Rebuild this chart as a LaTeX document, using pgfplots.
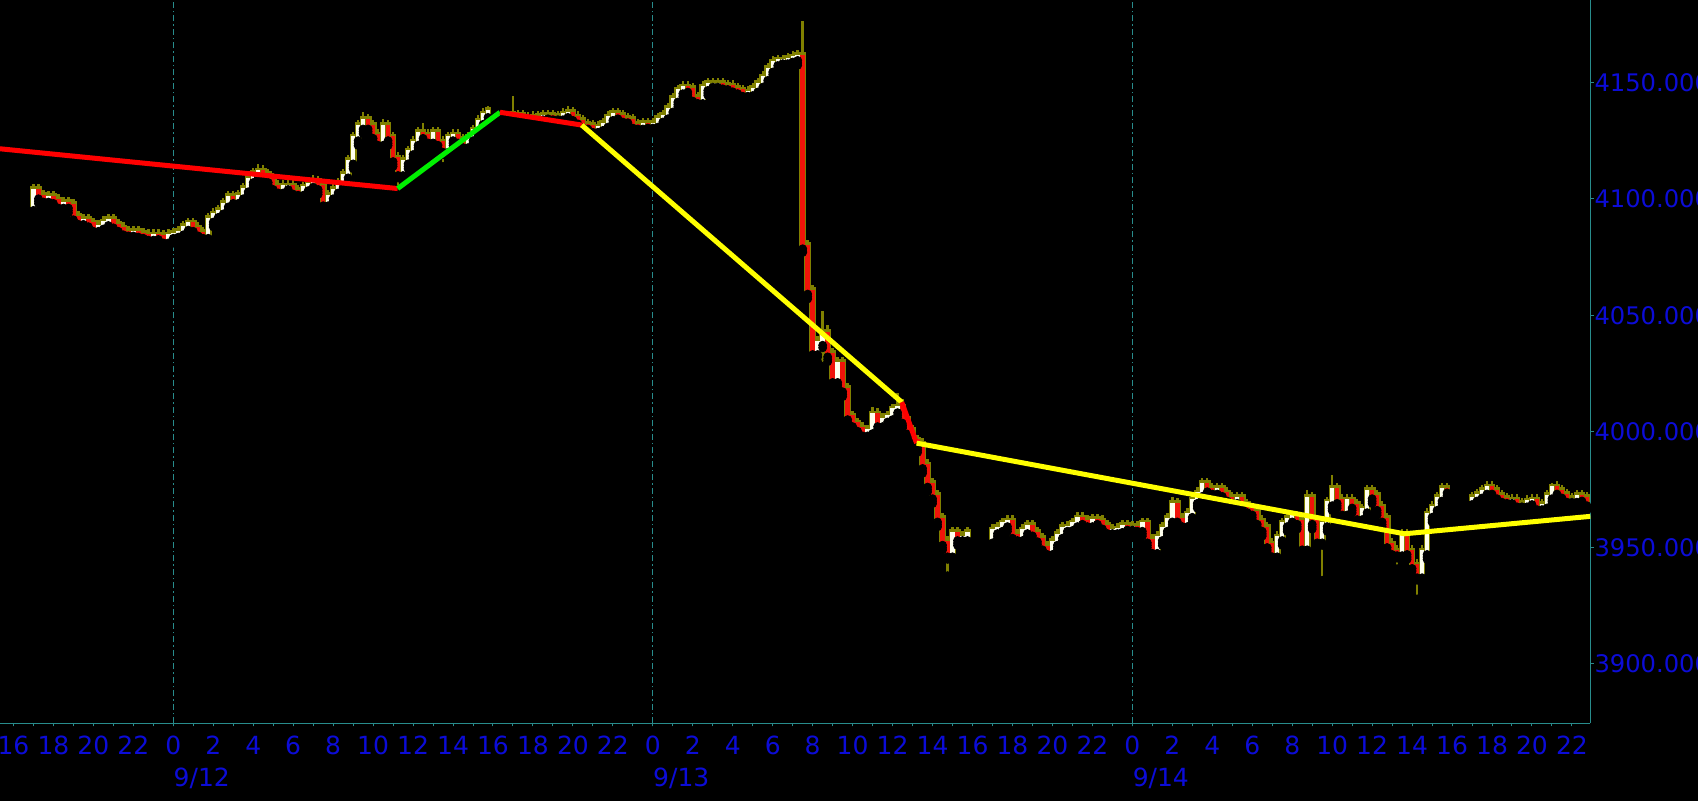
\documentclass[border=0pt]{standalone}
\usepackage{pgfplots}
\pgfplotsset{compat=1.18}
\usepackage{pgfplotstable}
\usepackage{fontspec}
\newfontfamily\lab{DejaVu Sans}
\definecolor{axc}{RGB}{40,140,140}
\definecolor{labc}{RGB}{12,12,215}
\definecolor{oliv}{RGB}{128,128,0}
\definecolor{upc}{RGB}{255,255,238}
\definecolor{dnc}{RGB}{240,20,10}
\definecolor{tr}{RGB}{255,0,0}
\definecolor{tg}{RGB}{0,240,0}
\definecolor{ty}{RGB}{255,255,0}

\pgfplotstableread{
t o h l c
-7.00 4096.0 4105.5 4094.0 4103.5
-6.75 4103.5 4105.5 4099.0 4101.0
-6.50 4101.0 4103.0 4097.6 4099.6
-6.25 4099.6 4102.5 4097.6 4100.5
-6.00 4100.5 4102.5 4097.0 4099.0
-5.75 4099.0 4101.0 4095.0 4097.0
-5.50 4097.0 4100.0 4095.0 4098.0
-5.25 4098.0 4100.0 4095.0 4097.0
-5.00 4097.0 4099.0 4090.0 4092.0
-4.75 4092.0 4094.0 4088.0 4090.0
-4.50 4090.0 4092.5 4088.0 4090.5
-4.25 4090.5 4092.5 4087.0 4089.0
-4.00 4089.0 4091.0 4085.0 4087.0
-3.75 4087.0 4090.0 4085.0 4088.0
-3.50 4088.0 4091.5 4086.0 4089.5
-3.25 4089.5 4092.5 4087.5 4090.5
-3.00 4090.5 4092.5 4086.5 4088.5
-2.75 4088.5 4090.5 4085.0 4087.0
-2.50 4087.0 4089.0 4083.5 4085.5
-2.25 4085.5 4087.5 4083.0 4085.0
-2.00 4085.0 4087.5 4083.0 4085.5
-1.75 4085.5 4087.5 4082.5 4084.5
-1.50 4084.5 4086.5 4082.0 4084.0
-1.25 4084.0 4086.0 4081.2 4083.2
-1.00 4083.2 4086.0 4081.2 4084.0
-0.75 4084.0 4086.0 4081.5 4083.5
-0.50 4083.5 4085.5 4080.0 4082.0
-0.25 4082.0 4086.0 4080.0 4084.0
0.00 4084.0 4086.5 4082.0 4084.5
0.25 4084.5 4087.5 4082.5 4085.5
0.50 4085.5 4089.5 4083.5 4087.5
0.75 4087.5 4091.0 4085.5 4089.0
1.00 4089.0 4091.0 4085.0 4087.0
1.25 4087.0 4089.0 4083.0 4085.0
1.50 4085.0 4087.0 4082.0 4084.0
1.75 4084.0 4093.0 4082.0 4091.0
2.00 4091.0 4095.0 4089.0 4093.0
2.25 4093.0 4096.5 4091.0 4094.5
2.50 4094.5 4099.5 4092.5 4097.5
2.75 4097.5 4102.5 4095.5 4100.5
3.00 4100.5 4102.5 4095.5 4099.0
3.25 4099.0 4103.0 4097.0 4101.0
3.50 4101.0 4106.0 4099.0 4104.0
3.75 4104.0 4110.0 4102.0 4108.0
4.00 4108.0 4112.5 4106.0 4110.5
4.25 4110.5 4114.0 4108.5 4111.5
4.50 4111.5 4113.5 4108.0 4110.0
4.75 4110.0 4112.0 4106.0 4108.0
5.00 4108.0 4110.0 4103.0 4105.0
5.25 4105.0 4107.0 4101.5 4103.5
5.50 4103.5 4107.0 4101.5 4105.0
5.75 4105.0 4107.0 4103.0 4105.0
6.00 4105.0 4107.0 4101.0 4103.0
6.25 4103.0 4105.0 4100.5 4102.5
6.50 4102.5 4106.5 4100.5 4104.5
6.75 4104.5 4108.0 4102.5 4106.0
7.00 4106.0 4109.5 4104.0 4107.0
7.25 4107.0 4109.0 4103.0 4105.0
7.50 4105.0 4107.0 4095.5 4098.0
7.75 4098.0 4103.0 4096.0 4101.0
8.00 4101.0 4105.5 4099.0 4103.5
8.25 4103.5 4108.0 4101.5 4106.0
8.50 4106.0 4112.0 4104.0 4110.0
8.75 4110.0 4118.0 4108.0 4116.0
9.00 4116.0 4128.0 4114.0 4126.0
9.25 4126.0 4133.0 4124.0 4131.0
9.50 4131.0 4136.5 4129.0 4133.5
9.75 4133.5 4135.5 4129.0 4131.0
10.00 4131.0 4133.0 4123.0 4127.0
10.25 4127.0 4129.0 4121.5 4124.0
10.50 4124.0 4133.5 4122.0 4131.0
10.75 4131.0 4133.0 4124.0 4126.0
11.00 4126.0 4128.0 4115.0 4117.0
11.25 4117.0 4119.0 4105.0 4111.0
11.50 4111.0 4118.0 4109.0 4116.0
11.75 4116.0 4122.0 4114.0 4120.0
12.00 4120.0 4126.0 4118.0 4124.0
12.25 4124.0 4130.0 4122.0 4128.0
12.50 4128.0 4131.5 4125.0 4127.0
12.75 4127.0 4129.0 4122.5 4125.0
13.00 4125.0 4130.0 4123.0 4128.0
13.25 4128.0 4130.0 4121.0 4124.0
13.50 4124.0 4126.0 4115.0 4121.0
13.75 4121.0 4128.0 4119.0 4126.0
14.00 4126.0 4129.0 4124.0 4127.0
14.25 4127.0 4129.0 4123.0 4125.0
14.50 4125.0 4127.0 4120.5 4123.0
14.75 4123.0 4128.0 4121.0 4126.0
15.00 4126.0 4131.0 4124.0 4129.0
15.25 4129.0 4135.0 4127.0 4133.0
15.50 4133.0 4138.0 4131.0 4136.0
15.75 4136.0 4139.0 4134.0 4137.5
17.00 4136.0 4143.3 4133.5 4135.0
17.25 4135.0 4137.4 4133.0 4135.4
17.50 4135.4 4137.4 4132.0 4134.0
17.75 4134.0 4136.3 4132.0 4134.3
18.00 4134.3 4136.7 4132.3 4134.7
18.25 4134.7 4137.0 4132.7 4135.0
18.50 4135.0 4137.4 4133.0 4135.4
18.75 4135.4 4137.4 4133.4 4135.4
19.00 4135.4 4137.4 4133.0 4135.0
19.25 4135.0 4137.0 4133.0 4135.0
19.50 4135.0 4138.0 4133.0 4136.0
19.75 4136.0 4139.0 4134.0 4136.5
20.00 4136.5 4138.5 4132.7 4134.7
20.25 4134.7 4136.7 4131.2 4133.2
20.50 4133.2 4135.2 4129.4 4131.4
20.75 4131.4 4133.4 4129.0 4131.0
21.00 4131.0 4133.0 4127.6 4129.6
21.25 4129.6 4132.4 4127.6 4130.4
21.50 4130.4 4133.8 4128.4 4131.8
21.75 4131.8 4136.7 4129.8 4134.7
22.00 4134.7 4138.1 4132.7 4136.1
22.25 4136.1 4138.1 4133.4 4135.4
22.50 4135.4 4137.4 4132.0 4134.0
22.75 4134.0 4136.0 4131.7 4133.7
23.00 4133.7 4135.7 4129.4 4131.4
23.25 4131.4 4133.4 4129.0 4131.0
23.50 4131.0 4133.8 4129.0 4131.8
23.75 4131.8 4133.8 4129.4 4131.4
24.00 4131.4 4133.8 4129.4 4131.8
24.25 4131.8 4136.0 4129.8 4134.0
24.50 4134.0 4137.4 4132.0 4135.4
24.75 4135.4 4140.3 4133.4 4138.3
25.00 4138.3 4144.6 4136.3 4142.6
25.25 4142.6 4148.2 4140.6 4146.2
25.50 4146.2 4149.6 4144.2 4147.6
25.75 4147.6 4149.6 4144.9 4146.9
26.00 4146.9 4148.9 4140.5 4143.0
26.25 4143.0 4145.0 4139.5 4142.0
26.50 4142.0 4149.6 4140.0 4147.6
26.75 4147.6 4151.0 4145.6 4149.0
27.00 4149.0 4151.0 4147.0 4149.0
27.25 4149.0 4151.2 4147.0 4149.2
27.50 4149.2 4151.2 4146.3 4148.3
27.75 4148.3 4150.3 4146.0 4148.0
28.00 4148.0 4150.0 4145.0 4147.0
28.25 4147.0 4149.0 4144.2 4146.2
28.50 4146.2 4148.2 4143.1 4145.1
28.75 4145.1 4147.4 4143.1 4145.4
29.00 4145.4 4148.9 4143.4 4146.9
29.25 4146.9 4151.0 4144.9 4149.0
29.50 4149.0 4153.9 4147.0 4151.9
29.75 4151.9 4157.5 4149.9 4155.5
30.00 4155.5 4160.3 4153.5 4158.3
30.25 4158.3 4161.1 4156.3 4159.1
30.50 4159.1 4161.1 4157.1 4159.1
30.75 4159.1 4161.8 4157.1 4159.8
31.00 4159.8 4162.5 4157.8 4160.5
31.25 4160.5 4163.2 4158.5 4161.2
31.50 4161.2 4175.5 4078.0 4079.5
31.75 4079.5 4081.5 4058.0 4060.0
32.00 4060.0 4062.0 4031.0 4034.0
32.25 4034.0 4040.0 4031.0 4038.0
32.50 4038.0 4051.0 4029.0 4042.0
32.75 4042.0 4045.0 4031.0 4033.0
33.00 4033.0 4035.0 4020.0 4022.0
33.25 4022.0 4031.0 4020.0 4029.0
33.50 4029.0 4031.0 4016.0 4018.0
33.75 4018.0 4020.0 4004.0 4006.0
34.00 4006.0 4008.0 4001.0 4003.0
34.25 4003.0 4005.0 3999.0 4001.0
34.50 4001.0 4003.0 3997.0 3999.0
34.75 3999.0 4002.0 3997.0 4000.0
35.00 4000.0 4009.5 3998.0 4007.0
35.25 4007.0 4009.0 4001.0 4003.0
35.50 4003.0 4007.0 4000.5 4005.0
35.75 4005.0 4008.0 4002.5 4006.0
36.00 4006.0 4011.0 4004.0 4009.0
36.25 4009.0 4015.7 4007.0 4010.0
36.50 4010.0 4013.0 4002.5 4004.5
36.75 4004.5 4006.5 3997.8 3999.8
37.00 3999.8 4001.8 3993.7 3995.7
37.25 3995.7 3997.7 3992.0 3994.0
37.50 3994.0 3996.0 3983.0 3985.0
37.75 3985.0 3987.0 3975.0 3977.0
38.00 3977.0 3979.0 3970.0 3972.0
38.25 3972.0 3974.0 3960.0 3962.0
38.50 3962.0 3964.0 3950.0 3952.0
38.75 3952.0 3954.0 3939.0 3947.0
39.00 3947.0 3958.0 3945.0 3956.0
39.25 3956.0 3958.0 3952.0 3954.0
39.50 3954.0 3956.0 3952.0 3954.0
39.75 3954.0 3958.0 3952.0 3956.0
41.00 3953.0 3959.0 3951.0 3957.0
41.25 3957.0 3960.0 3955.0 3958.0
41.50 3958.0 3962.0 3956.0 3960.0
41.75 3960.0 3963.0 3958.0 3961.0
42.00 3961.0 3963.0 3953.0 3955.0
42.25 3955.0 3957.0 3952.0 3954.0
42.50 3954.0 3959.0 3952.0 3957.0
42.75 3957.0 3961.0 3955.0 3959.0
43.00 3959.0 3961.0 3954.0 3956.0
43.25 3956.0 3958.0 3951.5 3953.5
43.50 3953.5 3955.5 3946.0 3950.0
43.75 3950.0 3952.0 3946.0 3948.0
44.00 3948.0 3954.0 3946.0 3952.0
44.25 3952.0 3957.0 3950.0 3955.0
44.50 3955.0 3960.0 3953.0 3958.0
44.75 3958.0 3960.3 3956.0 3958.3
45.00 3958.3 3962.0 3956.3 3960.0
45.25 3960.0 3964.3 3958.0 3962.3
45.50 3962.3 3964.3 3959.0 3961.0
45.75 3961.0 3963.0 3958.0 3960.0
46.00 3960.0 3963.5 3958.0 3961.5
46.25 3961.5 3963.5 3959.0 3961.0
46.50 3961.0 3963.0 3957.0 3959.0
46.75 3959.0 3961.0 3955.0 3957.0
47.00 3957.0 3959.0 3955.0 3957.0
47.25 3957.0 3959.5 3955.0 3957.5
47.50 3957.5 3961.0 3955.5 3959.0
47.75 3959.0 3961.0 3956.5 3958.5
48.00 3958.5 3960.5 3956.5 3958.5
48.25 3958.5 3960.5 3956.0 3958.0
48.50 3958.0 3962.0 3956.0 3960.0
48.75 3960.0 3962.0 3951.0 3953.0
49.00 3953.0 3955.0 3946.5 3948.5
49.25 3948.5 3956.0 3946.5 3954.0
49.50 3954.0 3960.0 3952.0 3958.0
49.75 3958.0 3964.0 3956.0 3962.0
50.00 3962.0 3971.0 3960.0 3968.5
50.25 3968.5 3970.5 3960.0 3962.0
50.50 3962.0 3964.0 3957.0 3960.0
50.75 3960.0 3966.0 3958.0 3964.0
51.00 3964.0 3972.0 3962.0 3970.0
51.25 3970.0 3975.0 3968.0 3973.0
51.50 3973.0 3979.0 3971.0 3977.0
51.75 3977.0 3979.0 3973.0 3975.0
52.00 3975.0 3977.0 3972.0 3974.0
52.25 3974.0 3977.0 3972.0 3975.0
52.50 3975.0 3977.0 3971.0 3973.0
52.75 3973.0 3975.0 3969.0 3971.0
53.00 3971.0 3973.0 3968.0 3970.0
53.25 3970.0 3973.0 3968.0 3971.0
53.50 3971.0 3973.0 3966.0 3968.0
53.75 3968.0 3970.0 3964.0 3966.0
54.00 3966.0 3968.0 3963.0 3965.0
54.25 3965.0 3967.0 3959.0 3961.0
54.50 3961.0 3963.0 3956.0 3958.0
54.75 3958.0 3960.0 3949.0 3951.0
55.00 3951.0 3953.0 3943.3 3947.0
55.25 3947.0 3956.0 3945.0 3954.0
55.50 3954.0 3962.0 3952.0 3960.0
55.75 3960.0 3964.0 3958.0 3962.0
56.00 3962.0 3965.0 3960.0 3963.0
56.25 3963.0 3965.0 3959.0 3961.0
56.50 3961.0 3963.0 3948.0 3950.0
56.75 3950.0 3974.0 3948.0 3971.0
57.00 3971.0 3973.0 3959.0 3961.0
57.25 3961.0 3963.0 3951.0 3953.0
57.50 3953.0 3962.0 3937.0 3960.0
57.75 3960.0 3971.0 3958.0 3969.0
58.00 3969.0 3980.5 3967.0 3975.0
58.25 3975.0 3977.0 3968.0 3970.0
58.50 3970.0 3972.0 3963.0 3965.0
58.75 3965.0 3972.0 3963.0 3970.0
59.00 3970.0 3972.0 3966.0 3968.0
59.25 3968.0 3970.0 3961.0 3963.0
59.50 3963.0 3968.0 3961.0 3966.0
59.75 3966.0 3976.0 3964.0 3974.0
60.00 3974.0 3976.0 3970.0 3972.0
60.25 3972.0 3974.0 3965.0 3967.0
60.50 3967.0 3969.0 3960.0 3962.0
60.75 3962.0 3964.0 3949.0 3951.0
61.00 3951.0 3953.0 3946.0 3948.0
61.25 3948.0 3950.0 3942.0 3947.5
61.50 3947.5 3957.0 3945.5 3955.0
61.75 3955.0 3957.0 3946.0 3948.0
62.00 3948.0 3950.0 3939.0 3942.0
62.25 3942.0 3944.0 3929.0 3938.0
62.50 3938.0 3950.0 3936.0 3948.0
62.75 3948.0 3966.0 3946.0 3964.0
63.00 3964.0 3969.0 3962.0 3967.0
63.25 3967.0 3973.0 3965.0 3971.0
63.50 3971.0 3977.0 3969.0 3975.0
63.75 3975.0 3977.0 3972.5 3974.5
65.00 3969.5 3973.0 3967.5 3971.0
65.25 3971.0 3974.3 3969.0 3972.3
65.50 3972.3 3976.0 3970.3 3974.0
65.75 3974.0 3977.5 3972.0 3975.5
66.00 3975.5 3977.5 3972.0 3974.0
66.25 3974.0 3976.0 3970.0 3972.0
66.50 3972.0 3974.0 3968.5 3970.5
66.75 3970.5 3972.5 3968.0 3970.0
67.00 3970.0 3972.0 3968.0 3970.0
67.25 3970.0 3972.0 3966.5 3968.5
67.50 3968.5 3970.5 3966.5 3968.5
67.75 3968.5 3971.5 3966.5 3969.5
68.00 3969.5 3972.0 3967.5 3970.0
68.25 3970.0 3972.0 3964.0 3967.3
68.50 3967.3 3970.0 3965.3 3968.0
68.75 3968.0 3974.0 3966.0 3972.0
69.00 3972.0 3977.0 3970.0 3975.5
69.25 3975.5 3977.5 3972.0 3974.0
69.50 3974.0 3976.0 3970.3 3972.3
69.75 3972.3 3974.3 3968.5 3970.5
70.00 3970.5 3972.5 3968.5 3970.5
70.25 3970.5 3974.0 3968.5 3972.0
70.50 3972.0 3974.0 3969.0 3971.0
70.75 3971.0 3973.0 3967.0 3969.0
}\candles

\pgfplotsset{chartframe/.style={
  at={(0pt,38.85pt)}, anchor=south west,
  width=795.15pt, height=361.65pt, scale only axis,
  xmin=-8.674, xmax=70.92, ymin=3874.5, ymax=4185.6}}

\begin{document}
\begin{tikzpicture}
\path[use as bounding box, fill=black] (0,0) rectangle (849pt,400.5pt);
\begin{axis}[
  chartframe,
  axis x line=bottom, axis y line=right,
  axis line style={-, draw=axc, line width=0.6pt},
  tick align=outside, major tick length=1.6pt, minor tick length=1.6pt,
  tick style={draw=axc, line width=0.5pt},
  xtick={-8,-6,...,70},
  xticklabels={16,18,20,22,0,2,4,6,8,10,12,14,16,18,20,22,0,2,4,6,8,10,12,14,16,18,20,22,0,2,4,6,8,10,12,14,16,18,20,22},
  minor xtick={-8,-7,...,70},
  ytick={3900,3950,4000,4050,4100,4150},
  yticklabels={3900.000,3950.000,4000.000,4050.000,4100.000,4150.000},
  xticklabel style={font=\lab\fontsize{12.5}{12.5}\selectfont, text=labc, anchor=base, inner sep=0pt, yshift=-13.85pt},
  yticklabel style={font=\lab\fontsize{12.1}{12.1}\selectfont, text=labc, anchor=west, inner sep=0pt, xshift=0.3pt},
  extra x ticks={0,24,48},
  extra x tick labels={},
  extra x tick style={grid=major, major grid style={draw=axc, line width=0.5pt, dash pattern=on 3pt off 1.5pt on 0.75pt off 1.5pt}},
]
% wicks
\addplot[only marks, mark=none, forget plot, error bars/.cd, y dir=plus, y explicit, error mark=none,
  error bar style={draw=oliv, line width=1.2pt}]
  table[x=t, y expr={\thisrow{l}-1.0}, y error plus expr={\thisrow{h}-\thisrow{l}+2.0}] {\candles};
% body outlines
\addplot[only marks, mark=none, forget plot, error bars/.cd, y dir=plus, y explicit, error mark=none,
  error bar style={draw=oliv, line width=3.4pt}]
  table[x=t, y expr={min(\thisrow{o},\thisrow{c})-2.0}, y error plus expr={abs(\thisrow{c}-\thisrow{o})+4.0}] {\candles};
% up bodies
\addplot[only marks, mark=none, forget plot, error bars/.cd, y dir=plus, y explicit, error mark=none,
  error bar style={draw=upc, line width=2.2pt}]
  table[x=t, y expr={\thisrow{c}>=\thisrow{o} ? \thisrow{o}-0.9 : 3700}, y error plus expr={\thisrow{c}>=\thisrow{o} ? \thisrow{c}-\thisrow{o}+1.8 : 0}] {\candles};
% down bodies
\addplot[only marks, mark=none, forget plot, error bars/.cd, y dir=plus, y explicit, error mark=none,
  error bar style={draw=dnc, line width=2.2pt}]
  table[x=t, y expr={\thisrow{c}<\thisrow{o} ? \thisrow{c}-0.9 : 3700}, y error plus expr={\thisrow{c}<\thisrow{o} ? \thisrow{o}-\thisrow{c}+1.8 : 0}] {\candles};
\coordinate (d0) at (axis cs:0,3874.5);
\coordinate (d1) at (axis cs:24,3874.5);
\coordinate (d2) at (axis cs:48,3874.5);
\end{axis}
% overlay axis for the trend lines, drawn above the candles
\begin{axis}[chartframe, hide axis]
\addplot[tr, line width=2.5pt] coordinates {(-8.674,4121.6) (11.23,4104.5)};
\addplot[tg, line width=2.5pt] coordinates {(11.23,4104.5) (16.35,4137.3)};
\addplot[tr, line width=2.5pt] coordinates {(16.35,4137.3) (20.44,4131.8)};
\addplot[ty, line width=2.5pt] coordinates {(20.44,4131.8) (36.46,4012.6)};
\addplot[tr, line width=2.5pt] coordinates {(36.46,4012.6) (37.2,3995)};
\addplot[ty, line width=2.5pt] coordinates {(37.2,3995) (61.62,3956) (70.92,3963.5)};
\end{axis}
\node[anchor=base west, inner sep=0pt, font=\lab\fontsize{12.5}{12.5}\selectfont, text=labc] at ([yshift=-31.85pt]d0) {9/12};
\node[anchor=base west, inner sep=0pt, font=\lab\fontsize{12.5}{12.5}\selectfont, text=labc] at ([yshift=-31.85pt]d1) {9/13};
\node[anchor=base west, inner sep=0pt, font=\lab\fontsize{12.5}{12.5}\selectfont, text=labc] at ([yshift=-31.85pt]d2) {9/14};
\end{tikzpicture}
\end{document}
